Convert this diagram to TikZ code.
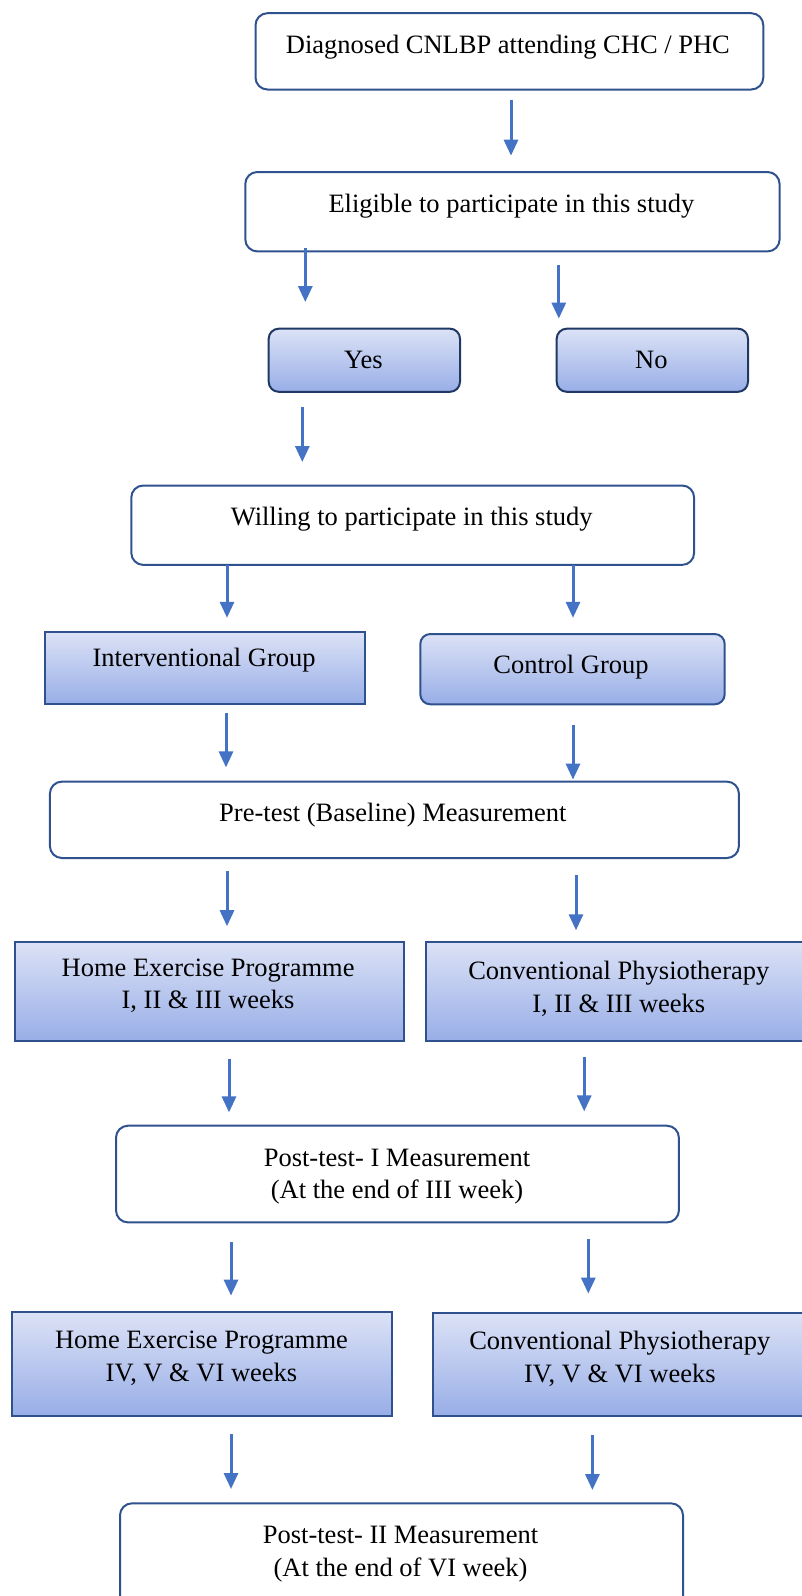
\documentclass[tikz,border=0pt]{standalone}
\usepackage{fontspec}
\setmainfont{Liberation Serif}
\usetikzlibrary{arrows.meta}
\definecolor{bord}{RGB}{47,82,143}
\definecolor{navy}{RGB}{32,56,100}
\definecolor{arrc}{RGB}{68,114,196}
\definecolor{gtop}{RGB}{220,226,246}
\definecolor{gbot}{RGB}{152,174,231}
\newcommand\myarrow[4]{\coordinate (#1s) at (#2,#3); \coordinate (#1e) at (#2,#4); \draw[arr] (#1s) -- (#1e);}
\begin{document}
\begin{tikzpicture}[x=1pt,y=-1pt,
  wbox/.style={draw=bord,line width=2pt,rounded corners=12pt,fill=white,anchor=north west,inner sep=0pt},
  gbox/.style={draw=bord,line width=2pt,top color=gtop,bottom color=gbot,anchor=north west,inner sep=0pt},
  grbox/.style={gbox,rounded corners=10pt,draw=navy},
  grbox2/.style={gbox,rounded corners=10pt},
  txt/.style={font=\fontsize{26.5}{32.5}\selectfont,align=center,inner sep=0pt,text=black},
  arr/.style={draw=arrc,line width=3pt,-{Triangle[length=16pt,width=14pt]}}]
\useasboundingbox (0,0) rectangle (802,1596);
\clip (0,0) rectangle (802,1596);
% boxes
\node[wbox,minimum width=507.8pt,minimum height=76.3pt] (b1) at (254.5,12.2) {};
\node[wbox,minimum width=534.3pt,minimum height=79.4pt] (b2) at (244.3,171) {};
\node[grbox,minimum width=191.3pt,minimum height=63.1pt] (yes) at (267.7,327.7) {};
\node[grbox,minimum width=191.3pt,minimum height=63.1pt] (no) at (555.7,327.7) {};
\node[wbox,minimum width=562.8pt,minimum height=79.4pt] (will) at (130.3,484.5) {};
\node[gbox,minimum width=320.6pt,minimum height=72.3pt] (ig) at (43.8,631) {};
\node[grbox2,minimum width=304.4pt,minimum height=70.3pt] (cg) at (419.3,633) {};
\node[wbox,minimum width=689pt,minimum height=76.4pt] (pre) at (48.9,780.6) {};
\node[gbox,minimum width=388.8pt,minimum height=99.7pt] (hep1) at (14.2,940.5) {};
\node[gbox,minimum width=386.6pt,minimum height=99.7pt] (cp1) at (425.4,940.5) {};
\node[wbox,minimum width=562.9pt,minimum height=96.7pt] (post1) at (115,1124.7) {};
\node[gbox,minimum width=379.6pt,minimum height=103.7pt] (hep2) at (11.2,1311) {};
\node[gbox,minimum width=377pt,minimum height=102.7pt] (cp2) at (431.5,1312) {};
\node[wbox,minimum width=563pt,minimum height=137.7pt] (post2) at (119,1502.3) {};
% texts
\node[txt] (t1) at (507.9,47.5) {Diagnosed CNLBP attending CHC / PHC};
\node[txt] (t2) at (511.4,206) {Eligible to participate in this study};
\node[txt] (tyes) at (363.4,359.5) {Yes};
\node[txt] (tno) at (651.4,359.5) {No};
\node[txt] (twill) at (411.7,519.5) {Willing to participate in this study};
\node[txt] (tig) at (204.1,660.5) {Interventional Group};
\node[txt] (tcg) at (571,667) {Control Group};
\node[txt] (tpre) at (392.9,815.5) {Pre-test (Baseline) Measurement};
\node[txt] (thep1) at (208.1,986) {Home Exercise Programme\\I, II \& III weeks};
\node[txt] (tcp1) at (618.8,989) {Conventional Physiotherapy\\I, II \& III weeks};
\node[txt] (tpost1) at (397,1176.5) {Post-test- I Measurement\\(At the end of III week)};
\node[txt] (thep2) at (201.5,1358) {Home Exercise Programme\\IV, V \& VI weeks};
\node[txt] (tcp2) at (619.8,1359) {Conventional Physiotherapy\\IV, V \& VI weeks};
\node[txt] (tpost2) at (400.5,1554) {Post-test- II Measurement\\(At the end of VI week)};
% arrows
\myarrow{a1}{511}{99.7}{155.7}
\myarrow{a2l}{305.3}{248}{302}
\myarrow{a2r}{558.8}{264.6}{318.6}
\myarrow{a3}{302.3}{407}{462}
\myarrow{a4l}{227}{565}{617.8}
\myarrow{a4r}{573}{565}{617.8}
\myarrow{a5l}{226}{712.5}{767.4}
\myarrow{a5r}{573}{724.7}{779.6}
\myarrow{a6l}{227}{871.2}{926.2}
\myarrow{a6r}{576}{875.3}{930.3}
\myarrow{a7l}{229}{1058.5}{1112.4}
\myarrow{a7r}{584.2}{1056.5}{1111.4}
\myarrow{a8l}{231}{1241.7}{1295.6}
\myarrow{a8r}{588.3}{1238.6}{1293.6}
\myarrow{a9l}{231}{1434}{1489}
\myarrow{a9r}{592.4}{1435}{1490}
\end{tikzpicture}
\end{document}
